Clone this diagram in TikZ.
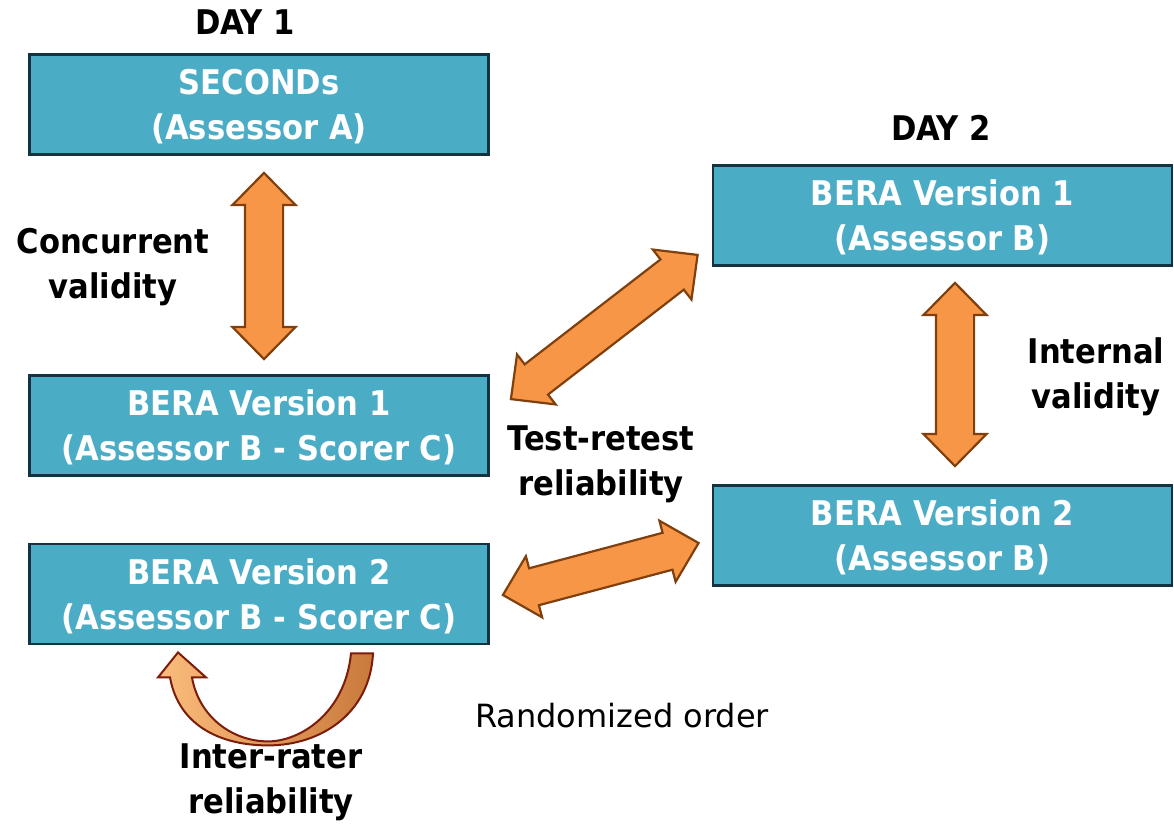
\documentclass[tikz,border=0pt]{standalone}
\usepackage{fontspec}
\setmainfont{DejaVu Sans Condensed}
\newfontfamily\widefont{DejaVu Sans}
\usetikzlibrary{positioning, calc, shapes.arrows}
\definecolor{boxfill}{HTML}{4BACC6}
\definecolor{boxline}{HTML}{12333F}
\definecolor{arroworange}{HTML}{F79646}
\definecolor{arrowline}{HTML}{80400E}
\definecolor{curvelight}{HTML}{FBBD7C}
\definecolor{curvedark}{HTML}{C9793C}
\definecolor{curveline}{HTML}{7C1C0A}

% broad double arrow laid between two named points
\newcommand{\fatarrow}[2]{%
  \path let \p1=(#1), \p2=(#2), \n1={atan2(\y2-\y1,\x2-\x1)}, \n2={veclen(\x2-\x1,\y2-\y1)} in
    node[fat, rotate=\n1, minimum height=\n2] at ($(\p1)!0.5!(\p2)$) {};}

\begin{document}
\begin{tikzpicture}[x=1pt,y=-1pt,font=\fontsize{34}{45}\selectfont\bfseries]
  \tikzstyle{block}=[rectangle,draw=boxline,line width=2.8pt,fill=boxfill,text=white,
    minimum width=459pt,minimum height=100pt,align=center,inner sep=0pt,text depth=0pt]
  \tikzstyle{note}=[align=center,inner sep=0pt]
  \tikzstyle{fat}=[double arrow,draw=arrowline,fill=arroworange,line width=2.2pt,
    inner xsep=0pt,inner ysep=18pt,double arrow head extend=12.5pt,double arrow tip angle=89]

  \useasboundingbox (0,0) rectangle (1174,825);

  \node[block] (seconds) at (259,104.5) {SECONDs\\(Assessor A)};
  \node[block] (beraAone) at (259,425.5) {BERA Version 1\\(Assessor B - Scorer C)};
  \node[block] (beraAtwo) at (259,594) {BERA Version 2\\(Assessor B - Scorer C)};
  \node[block] (beraBone) at (942.5,215.5) {BERA Version 1\\(Assessor B)};
  \node[block] (beraBtwo) at (942.5,535.5) {BERA Version 2\\(Assessor B)};

  \node[note] (day1) at (245,22) {DAY 1};
  \node[note] (day2) at (941,128) {DAY 2};

  \node[note] (concurrent) at (113,267) {Concurrent\\validity};
  \node[note] (internal) at (1096,377) {Internal\\validity};
  \node[note] (retest) at (601,464) {Test-retest\\reliability};
  \node[note] (interrater) at (271,782) {Inter-rater\\reliability};
  \node[note,font=\fontsize{32}{44}\selectfont\widefont\mdseries] (random) at (622,716) {Randomized order};

  \coordinate (c1) at ($(seconds.south)+(5,17)$);
  \coordinate (c2) at ($(beraAone.north)+(5,-15)$);
  \coordinate (i1) at ($(beraBone.south)+(12.5,16)$);
  \coordinate (i2) at ($(beraBtwo.north)+(12.5,-18)$);
  \coordinate (r1) at ($(beraAone.north east)+(21,25)$);
  \coordinate (r2) at ($(beraBone.south west)+(-14,-12)$);
  \coordinate (s1) at ($(beraAtwo.east)+(13,1)$);
  \coordinate (s2) at ($(beraBtwo.west)+(-13,7.5)$);

  \fatarrow{c1}{c2}
  \fatarrow{i1}{i2}
  \fatarrow{r1}{r2}
  \fatarrow{s1}{s2}

  \begin{scope}[shift={(beraAtwo.south)}]
    \draw[curveline,line width=2pt,shading=axis,left color=curvelight,right color=curvedark]
      (92,8) .. controls (86,68) and (41,96) .. (9,96)
      .. controls (-26,96) and (-60,72) .. (-67,32)
      -- (-53,32) -- (-81,7) -- (-101,32) -- (-89,32)
      .. controls (-80,82) and (-36,100) .. (9,100)
      .. controls (62,100) and (111,68) .. (114,8) -- cycle;
  \end{scope}
\end{tikzpicture}
\end{document}
